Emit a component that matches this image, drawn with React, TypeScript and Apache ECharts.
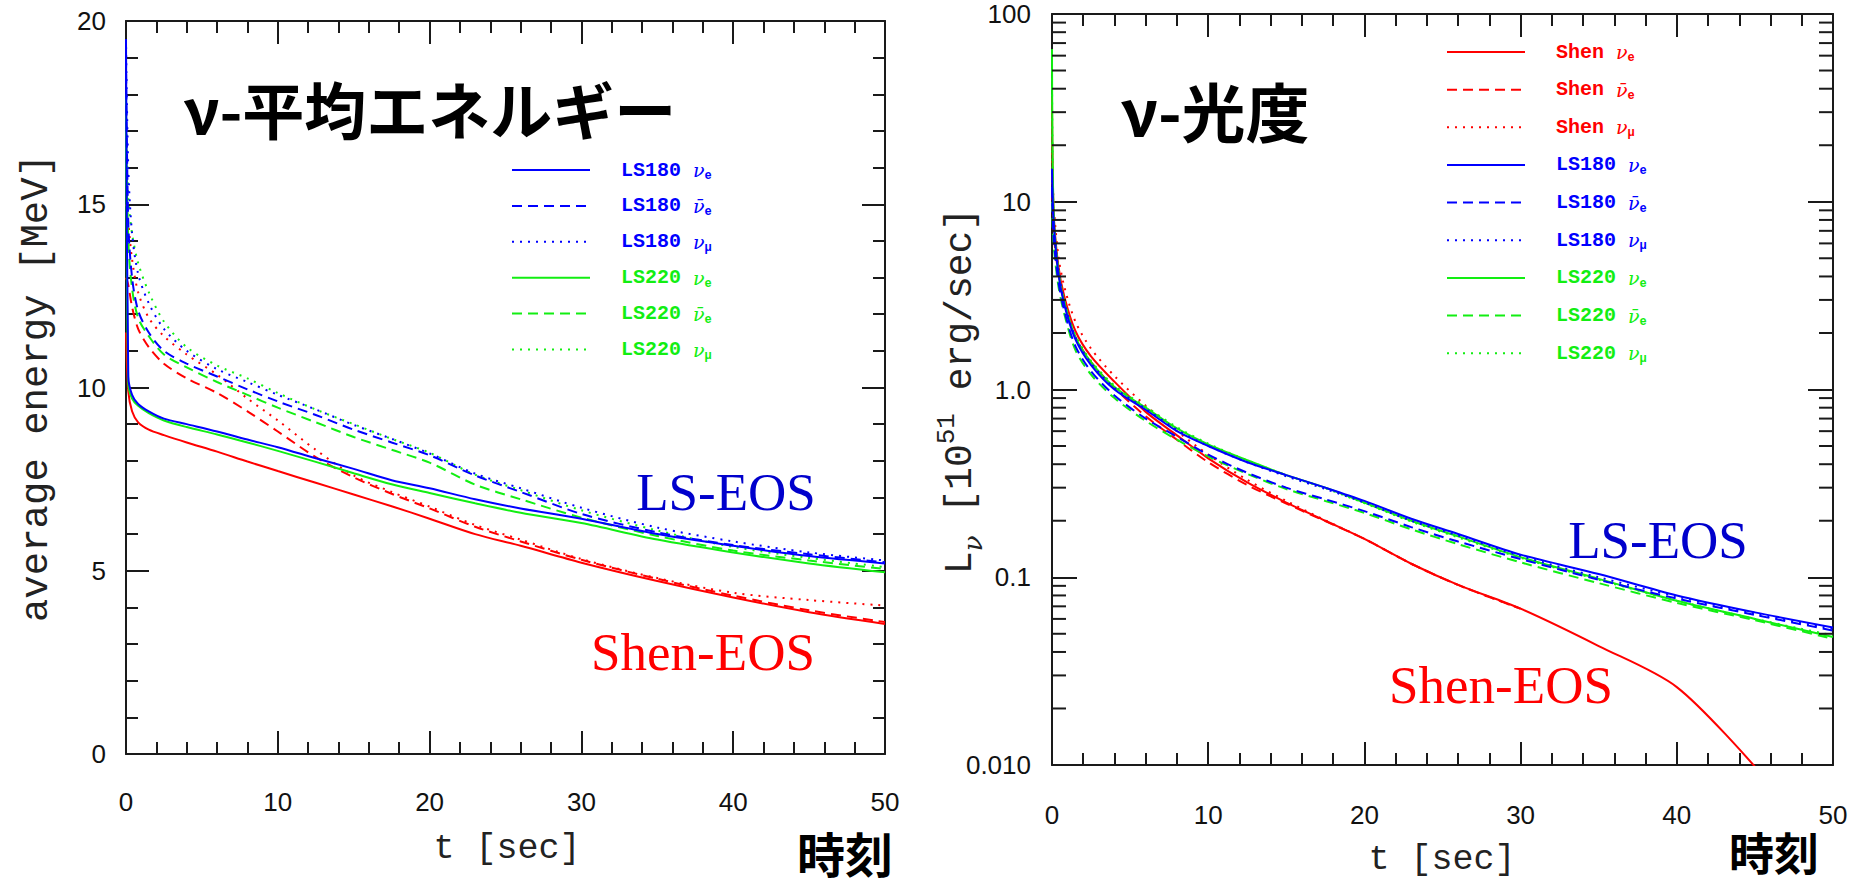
import React, { useEffect, useRef } from 'react';
import * as echarts from 'echarts';

// ---------- Data ----------
// Left panel: average energy [MeV] vs t [sec]
const tEnergy = [0, 0.15, 0.4, 0.8, 1.5, 2.5, 4, 6, 8, 10, 12.5, 15, 17.5, 20, 23, 26, 30, 35, 40, 45, 50];
const eShenNue = [11.5, 9.9, 9.35, 9.05, 8.85, 8.7, 8.5, 8.25, 7.98, 7.72, 7.4, 7.08, 6.76, 6.42, 6.0, 5.68, 5.22, 4.72, 4.27, 3.87, 3.55];
const eShenNueBar = [13, 12.8, 12.2, 11.6, 11.1, 10.65, 10.25, 9.85, 9.35, 8.8, 8.1, 7.55, 7.1, 6.7, 6.2, 5.8, 5.3, 4.78, 4.32, 3.92, 3.6];
const eShenNumu = [15, 14.5, 13.5, 12.6, 11.9, 11.4, 10.9, 10.35, 9.7, 9.1, 8.3, 7.6, 7.15, 6.75, 6.25, 5.85, 5.32, 4.8, 4.4, 4.2, 4.05];
const eLS180Nue = [19.5, 10.3, 9.8, 9.55, 9.35, 9.15, 9.0, 8.8, 8.58, 8.37, 8.07, 7.78, 7.47, 7.25, 6.95, 6.7, 6.42, 6.0, 5.68, 5.4, 5.2];
const eLS180NueBar = [19, 14.5, 13, 12.1, 11.5, 11.0, 10.65, 10.3, 9.95, 9.62, 9.25, 8.85, 8.5, 8.15, 7.6, 7.15, 6.55, 6.05, 5.7, 5.45, 5.23];
const eLS180Numu = [19.5, 16, 14.2, 13.1, 12.3, 11.6, 11.0, 10.5, 10.15, 9.8, 9.4, 8.98, 8.6, 8.2, 7.65, 7.25, 6.72, 6.18, 5.8, 5.5, 5.28];
const eLS220Nue = [18, 10.1, 9.7, 9.5, 9.3, 9.1, 8.92, 8.72, 8.5, 8.27, 7.97, 7.66, 7.36, 7.12, 6.84, 6.58, 6.3, 5.85, 5.5, 5.2, 4.96];
const eLS220NueBar = [17, 14, 12.7, 11.9, 11.4, 10.9, 10.55, 10.15, 9.8, 9.45, 9.05, 8.65, 8.3, 7.95, 7.35, 6.95, 6.45, 5.95, 5.55, 5.28, 5.05];
const eLS220Numu = [18, 15.2, 14.2, 13.4, 12.6, 11.8, 11.1, 10.6, 10.25, 9.85, 9.4, 9.0, 8.6, 8.22, 7.62, 7.2, 6.65, 6.1, 5.65, 5.35, 5.1];

// Right panel: luminosity [1e51 erg/sec] vs t [sec]
const tLum = [0, 0.1, 0.4, 0.8, 1.5, 2.5, 4, 6, 8, 10, 12.5, 15, 17.5, 20, 23, 26, 30, 35, 40, 45, 50];
const lShenNue = [36, 9, 4.6, 3.1, 2.05, 1.5, 1.1, 0.76, 0.57, 0.43, 0.32, 0.25, 0.2, 0.16, 0.118, 0.091, 0.068, 0.043, 0.026, 0.0098];
const lShenNueBar = [14, 7, 4.2, 2.9, 1.9, 1.4, 1.02, 0.72, 0.54, 0.41, 0.31, 0.247, 0.199, 0.16, 0.118, 0.091, 0.068];
const lShenNumu = [20, 10, 5.2, 3.5, 2.3, 1.65, 1.18, 0.82, 0.6, 0.45, 0.33, 0.255, 0.201, 0.16, 0.118, 0.091, 0.068];
const lLS180Nue = [15, 8, 4.2, 2.8, 1.85, 1.35, 1.0, 0.78, 0.6, 0.5, 0.41, 0.35, 0.3, 0.255, 0.205, 0.17, 0.132, 0.104, 0.08, 0.065, 0.054];
const lLS180NueBar = [12, 6.5, 3.8, 2.6, 1.7, 1.25, 0.93, 0.7, 0.56, 0.45, 0.36, 0.3, 0.26, 0.225, 0.185, 0.155, 0.125, 0.097, 0.077, 0.063, 0.052];
const lLS180Numu = [13, 7.5, 4.4, 2.9, 1.9, 1.38, 1.02, 0.79, 0.61, 0.5, 0.41, 0.345, 0.295, 0.25, 0.2, 0.167, 0.13, 0.1, 0.079, 0.064, 0.053];
const lLS220Nue = [65, 9, 4.3, 2.9, 1.9, 1.4, 1.03, 0.8, 0.62, 0.51, 0.42, 0.35, 0.3, 0.25, 0.2, 0.165, 0.128, 0.098, 0.075, 0.06, 0.048];
const lLS220NueBar = [10, 6, 3.6, 2.5, 1.62, 1.2, 0.9, 0.68, 0.54, 0.44, 0.355, 0.295, 0.255, 0.22, 0.18, 0.15, 0.12, 0.093, 0.073, 0.059, 0.047];
const lLS220Numu = [50, 8.5, 4.4, 2.95, 1.95, 1.42, 1.05, 0.81, 0.63, 0.515, 0.42, 0.35, 0.298, 0.248, 0.198, 0.163, 0.127, 0.097, 0.075, 0.06, 0.049];

const logMinorTicks = [0.02, 0.03, 0.04, 0.05, 0.06, 0.07, 0.08, 0.09, 0.2, 0.3, 0.4, 0.5, 0.6, 0.7, 0.8, 0.9, 2, 3, 4, 5, 6, 7, 8, 9, 20, 30, 40, 50, 60, 70, 80, 90];
const logLabels: Record<string, string> = { '-2': '0.010', '-1': '0.1', '0': '1.0', '1': '10', '2': '100' };

// ---------- Styles ----------
const RED = '#ff0000';
const BLUE = '#0000ff';
const GREEN = '#12ee12';
const DASH = [10, 6];
const DOT = [2, 6];
const AXIS_COLOR = '#1a1a1a';
const TICK_FONT = 'Liberation Sans, Arial, sans-serif';
const MONO = '"Liberation Mono", "DejaVu Sans Mono", monospace';
const CJK = '"Noto Sans CJK JP", "Noto Sans CJK SC", sans-serif';
const SERIF = '"Liberation Serif", "Times New Roman", serif';

const N = {
  shenE: 'Shen νe', shenA: 'Shen ν̄e', shenM: 'Shen νμ',
  ls180E: 'LS180 νe', ls180A: 'LS180 ν̄e', ls180M: 'LS180 νμ',
  ls220E: 'LS220 νe', ls220A: 'LS220 ν̄e', ls220M: 'LS220 νμ',
};

function zip(t: number[], v: number[]) {
  return v.map((y, i) => [t[i], y]);
}

function lineSeries(name: string, t: number[], v: number[], color: string, dash: any, axis: number, z: number) {
  return {
    type: 'line',
    name,
    xAxisIndex: axis,
    yAxisIndex: axis,
    data: zip(t, v),
    showSymbol: false,
    symbol: 'none',
    smooth: 0.3,
    z,
    lineStyle: { color, width: 2, type: dash },
    itemStyle: { color },
    emphasis: { disabled: true },
  };
}

function xAxes(gridIndex: number) {
  const common = {
    gridIndex,
    type: 'value',
    min: 0,
    max: 50,
    interval: 10,
    axisLine: { show: true, onZero: false, lineStyle: { color: AXIS_COLOR, width: 2 } },
    axisTick: { show: true, inside: true, length: 23, lineStyle: { color: AXIS_COLOR, width: 2 } },
    minorTick: { show: true, splitNumber: 5, length: 12, lineStyle: { color: AXIS_COLOR, width: 2 } },
    splitLine: { show: false },
  };
  return [
    {
      ...common,
      position: 'bottom',
      axisLabel: { show: true, margin: gridIndex === 0 ? 35 : 37, fontSize: 26, color: '#111', fontFamily: TICK_FONT },
    },
    { ...common, position: 'top', axisLabel: { show: false } },
  ];
}

function leftYAxes() {
  const common = {
    gridIndex: 0,
    type: 'value',
    min: 0,
    max: 20,
    interval: 5,
    axisLine: { show: true, onZero: false, lineStyle: { color: AXIS_COLOR, width: 2 } },
    axisTick: { show: true, inside: true, length: 23, lineStyle: { color: AXIS_COLOR, width: 2 } },
    minorTick: { show: true, splitNumber: 5, length: 12, lineStyle: { color: AXIS_COLOR, width: 2 } },
    splitLine: { show: false },
  };
  return [
    { ...common, position: 'left', axisLabel: { show: true, margin: 20, fontSize: 26, color: '#111', fontFamily: TICK_FONT } },
    { ...common, position: 'right', axisLabel: { show: false } },
  ];
}

function rightYAxes() {
  const common = {
    gridIndex: 1,
    type: 'log',
    logBase: 10,
    min: 0.01,
    max: 100,
    axisLine: { show: true, onZero: false, lineStyle: { color: AXIS_COLOR, width: 2 } },
    axisTick: { show: true, inside: true, length: 25, lineStyle: { color: AXIS_COLOR, width: 2 } },
    minorTick: { show: false },
    splitLine: { show: false },
  };
  return [
    {
      ...common,
      position: 'left',
      axisLabel: {
        show: true,
        margin: 21,
        fontSize: 26,
        color: '#111',
        fontFamily: TICK_FONT,
        formatter: (v: number) => logLabels[String(Math.round(Math.log10(v)))] ?? '',
      },
    },
    { ...common, position: 'right', axisLabel: { show: false } },
  ];
}

function legendFormatter(name: string) {
  const [prefix, sym] = name.split(' ');
  let nu = 'ν';
  let sub = 'e';
  if (sym === 'ν̄e') nu = 'ν̄';
  if (sym === 'νμ') sub = 'μ';
  return `{t|${prefix} }{n|${nu}}{s|${sub}}`;
}

const legendRich = {
  t: { fontFamily: MONO, fontSize: 20, fontWeight: 'bold', lineHeight: 24, verticalAlign: 'middle' },
  n: { fontFamily: 'DejaVu Serif, serif', fontSize: 19, fontStyle: 'italic', lineHeight: 24, verticalAlign: 'middle' },
  s: { fontFamily: MONO, fontSize: 12, fontWeight: 'bold', lineHeight: 24, verticalAlign: 'bottom', padding: [8, 0, 0, 0] },
};

function legendData(names: string[], colors: string[]) {
  return names.map((n, i) => ({ name: n, textStyle: { color: colors[i] } }));
}

export default function App() {
  const ref = useRef<HTMLDivElement>(null);

  useEffect(() => {
    if (!ref.current) return;
    const chart = echarts.init(ref.current, undefined, { renderer: 'svg' });

    const left = [
      lineSeries(N.shenE, tEnergy, eShenNue, RED, 'solid', 0, 3),
      lineSeries(N.shenA, tEnergy, eShenNueBar, RED, DASH, 0, 3),
      lineSeries(N.shenM, tEnergy, eShenNumu, RED, DOT, 0, 3),
      lineSeries(N.ls220E, tEnergy, eLS220Nue, GREEN, 'solid', 0, 4),
      lineSeries(N.ls220A, tEnergy, eLS220NueBar, GREEN, DASH, 0, 4),
      lineSeries(N.ls220M, tEnergy, eLS220Numu, GREEN, DOT, 0, 4),
      lineSeries(N.ls180E, tEnergy, eLS180Nue, BLUE, 'solid', 0, 5),
      lineSeries(N.ls180A, tEnergy, eLS180NueBar, BLUE, DASH, 0, 5),
      lineSeries(N.ls180M, tEnergy, eLS180Numu, BLUE, DOT, 0, 5),
    ];
    const rightLines = [
      lineSeries(N.shenA, tLum, lShenNueBar, RED, DASH, 2, 3),
      lineSeries(N.shenM, tLum, lShenNumu, RED, DOT, 2, 3),
      lineSeries(N.shenE, tLum, lShenNue, RED, 'solid', 2, 3),
      lineSeries(N.ls220E, tLum, lLS220Nue, GREEN, 'solid', 2, 4),
      lineSeries(N.ls220A, tLum, lLS220NueBar, GREEN, DASH, 2, 4),
      lineSeries(N.ls220M, tLum, lLS220Numu, GREEN, DOT, 2, 4),
      lineSeries(N.ls180E, tLum, lLS180Nue, BLUE, 'solid', 2, 5),
      lineSeries(N.ls180A, tLum, lLS180NueBar, BLUE, DASH, 2, 5),
      lineSeries(N.ls180M, tLum, lLS180Numu, BLUE, DOT, 2, 5),
    ];

    const minorTickSeries = {
      type: 'custom',
      xAxisIndex: 2,
      yAxisIndex: 2,
      data: logMinorTicks.map((v) => [0, v]),
      silent: true,
      z: 10,
      renderItem: (_p: any, api: any) => {
        const v = api.value(1);
        const a = api.coord([0, v]);
        const b = api.coord([50, v]);
        const st = { stroke: AXIS_COLOR, lineWidth: 2 };
        return {
          type: 'group',
          children: [
            { type: 'line', shape: { x1: a[0], y1: a[1], x2: a[0] + 14, y2: a[1] }, style: st },
            { type: 'line', shape: { x1: b[0] - 14, y1: b[1], x2: b[0], y2: b[1] }, style: st },
          ],
        };
      },
    };

    const leftLegendNames = [N.ls180E, N.ls180A, N.ls180M, N.ls220E, N.ls220A, N.ls220M];
    const leftLegendColors = [BLUE, BLUE, BLUE, GREEN, GREEN, GREEN];
    const rightLegendNames = [N.shenE, N.shenA, N.shenM, ...leftLegendNames];
    const rightLegendColors = [RED, RED, RED, ...leftLegendColors];

    const legendCommon = {
      orient: 'vertical',
      itemWidth: 78,
      itemHeight: 14,
      selectedMode: false,
      formatter: legendFormatter,
      itemStyle: { color: 'transparent', borderWidth: 0, opacity: 0 },
      textStyle: { rich: legendRich, padding: [0, 0, 0, 26] },
    };

    const titleStyle = { fontFamily: CJK, fontWeight: 'bold', fill: '#000' };

    const graphic = [
      { type: 'text', x: 430, y: 108, style: { ...titleStyle, fontSize: 62, text: 'ν-平均エネルギー', align: 'center', verticalAlign: 'middle' } },
      { type: 'text', x: 1121, y: 109, style: { ...titleStyle, fontSize: 64, text: 'ν-光度', align: 'left', verticalAlign: 'middle' } },
      { type: 'text', x: 37, y: 388, rotation: Math.PI / 2, style: { text: 'average energy [MeV]', fontFamily: MONO, fontSize: 39, fill: '#222', align: 'center', verticalAlign: 'middle' } },
      {
        type: 'text', x: 960, y: 391, rotation: Math.PI / 2,
        style: {
          text: '{m|L}{b|ν}{m| [10}{p|51}{m| erg/sec]}',
          align: 'center', verticalAlign: 'middle', fill: '#222',
          rich: {
            m: { fontFamily: MONO, fontSize: 38, lineHeight: 52, verticalAlign: 'middle', fill: '#222' },
            b: { fontFamily: 'DejaVu Serif, serif', fontStyle: 'italic', fontSize: 26, lineHeight: 52, verticalAlign: 'bottom', padding: [14, 0, 0, 0], fill: '#222' },
            p: { fontFamily: MONO, fontSize: 26, lineHeight: 52, verticalAlign: 'top', padding: [0, 0, 16, 0], fill: '#222' },
          },
        },
      },
      { type: 'text', x: 507, y: 849, style: { text: 't [sec]', fontFamily: MONO, fontSize: 35, fill: '#222', align: 'center', verticalAlign: 'middle' } },
      { type: 'text', x: 1442, y: 860, style: { text: 't [sec]', fontFamily: MONO, fontSize: 35, fill: '#222', align: 'center', verticalAlign: 'middle' } },
      { type: 'text', x: 845, y: 852, style: { text: '時刻', fontFamily: CJK, fontWeight: 'bold', fontSize: 48, fill: '#000', align: 'center', verticalAlign: 'middle' } },
      { type: 'text', x: 1774, y: 851, style: { text: '時刻', fontFamily: CJK, fontWeight: 'bold', fontSize: 45, fill: '#000', align: 'center', verticalAlign: 'middle' } },
      { type: 'text', x: 726, y: 492, style: { text: 'LS-EOS', fontFamily: SERIF, fontSize: 53, fill: '#0000cc', align: 'center', verticalAlign: 'middle' } },
      { type: 'text', x: 703, y: 652, style: { text: 'Shen-EOS', fontFamily: SERIF, fontSize: 53, fill: RED, align: 'center', verticalAlign: 'middle' } },
      { type: 'text', x: 1658, y: 540, style: { text: 'LS-EOS', fontFamily: SERIF, fontSize: 53, fill: '#0000cc', align: 'center', verticalAlign: 'middle' } },
      { type: 'text', x: 1501, y: 685, style: { text: 'Shen-EOS', fontFamily: SERIF, fontSize: 53, fill: RED, align: 'center', verticalAlign: 'middle' } },
    ];

    chart.setOption({
      animation: false,
      backgroundColor: '#ffffff',
      grid: [
        { left: 126, right: 1863 - 885, top: 21, bottom: 886 - 754, containLabel: false },
        { left: 1052, right: 1863 - 1833, top: 14, bottom: 886 - 765, containLabel: false },
      ],
      xAxis: [...xAxes(0), ...xAxes(1)],
      yAxis: [...leftYAxes(), ...rightYAxes()],
      legend: [
        { ...legendCommon, left: 506, top: 155, itemGap: 13.9, data: legendData(leftLegendNames, leftLegendColors) },
        { ...legendCommon, left: 1441, top: 37, itemGap: 15.65, data: legendData(rightLegendNames, rightLegendColors) },
      ],
      series: [...left, ...rightLines, minorTickSeries],
      graphic,
    });

    return () => chart.dispose();
  }, []);

  return (
    <div
      ref={ref}
      style={{ position: 'fixed', left: 0, top: 0, width: 1863, height: 886, background: '#fff' }}
    />
  );
}
